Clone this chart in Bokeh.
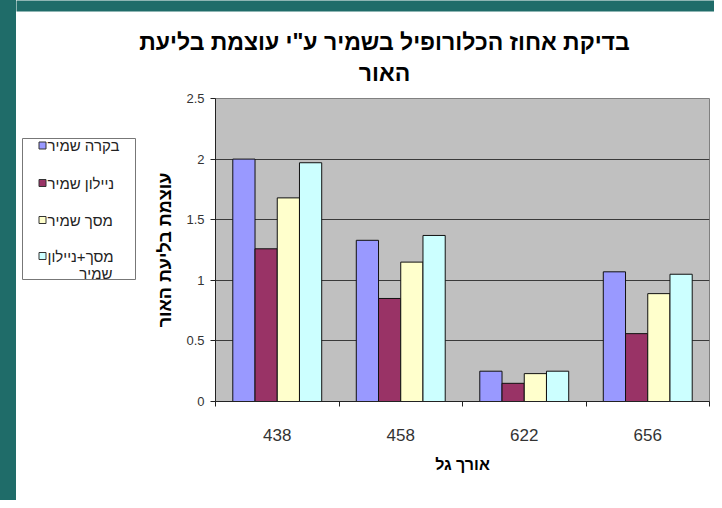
from bokeh.plotting import figure
from bokeh.layouts import column, row
from bokeh.models import (Range1d, FixedTicker, NumeralTickFormatter, ColumnDataSource, Spacer)
from bokeh.transform import dodge
from bokeh.core.properties import value
from bokeh.embed import file_html
from bokeh.resources import INLINE

# ---------------- data ----------------
categories = ["438", "458", "622", "656"]
series_names = ["בקרה שמיר", "ניילון שמיר", "מסך שמיר", "מסך+ניילון שמיר"]
control_shamir = [2.00, 1.33, 0.25, 1.07]
nylon_shamir = [1.26, 0.85, 0.15, 0.56]
screen_shamir = [1.68, 1.15, 0.23, 0.89]
screen_nylon_shamir = [1.97, 1.37, 0.25, 1.05]
y_ticks = [0, 0.5, 1, 1.5, 2, 2.5]
title_lines = ['בדיקת אחוז הכלורופיל בשמיר ע"י עוצמת בליעת', "האור"]
x_title = "אורך גל"
y_title = "עוצמת בליעת האור"

series_values = [control_shamir, nylon_shamir, screen_shamir, screen_nylon_shamir]
colors = ["#9999FF", "#993366", "#FFFFCC", "#CCFFFF"]
FONT = "Liberation Sans"
TEAL = "#1F6C69"

W, H = 714, 500
TOP_H = 88
TEAL_W = 16
LEFT_X1 = 145
ROW_H = H - TOP_H
MB_TOP, MB_BOTTOM = 10, 99


def blank(fig):
    fig.outline_line_color = None
    fig.grid.visible = False
    fig.background_fill_color = "white"
    fig.border_fill_color = "white"
    return fig


# ---------------- teal left strip (full height) ----------------
sf = Spacer(width=TEAL_W, height=H, styles={"background-color": TEAL})

# ---------------- title strip ----------------
tf = blank(figure(width=W - TEAL_W, height=TOP_H, x_range=Range1d(TEAL_W, W),
                  y_range=Range1d(TOP_H, 0),
                  output_backend="svg", toolbar_location=None, x_axis_type=None, y_axis_type=None,
                  min_border=0, min_border_left=0, min_border_right=0, min_border_top=0,
                  min_border_bottom=0))
tf.quad(left=[0], right=[W], top=[-2], bottom=[11], fill_color=TEAL, line_color=None)
tf.text(x=[384, 384], y=[41, 72], text=title_lines, text_align="center", text_baseline="middle",
        text_font=value(FONT), text_font_style="bold", text_font_size="23px", text_color="black")

# ---------------- legend strip ----------------
lf = blank(figure(width=LEFT_X1 - TEAL_W, height=ROW_H, x_range=Range1d(TEAL_W, LEFT_X1),
                  y_range=Range1d(TOP_H + ROW_H - MB_BOTTOM, TOP_H + MB_TOP),
                  output_backend="svg", toolbar_location=None, x_axis_type=None, y_axis_type=None,
                  min_border=0, min_border_left=0, min_border_right=0,
                  min_border_top=MB_TOP, min_border_bottom=MB_BOTTOM))
lf.quad(left=[22], right=[135], top=[138], bottom=[279], fill_color="white",
        line_color="#777777", line_width=1)
ys = [145, 182.5, 219.5, 255.5]
lf.rect(x=[42] * 4, y=ys, width=7, height=7, fill_color=colors, line_color="#333333", line_width=1)
first_lines = [series_names[0], series_names[1], series_names[2], "מסך+ניילון"]
lf.text(x=[47] * 4, y=ys, text=first_lines, text_align="left", text_baseline="middle",
        text_font=value(FONT), text_font_size="15px", text_color="#222222")
lf.text(x=[112], y=[273], text=["שמיר"], text_align="right", text_baseline="middle",
        text_font=value(FONT), text_font_size="15px", text_color="#222222")

# ---------------- main chart ----------------
p = figure(width=W - LEFT_X1, height=ROW_H, x_range=Range1d(0, len(categories)),
           y_range=Range1d(0, 2.5), output_backend="svg", toolbar_location=None,
           min_border_left=70, min_border_right=5, min_border_top=MB_TOP,
           min_border_bottom=MB_BOTTOM)
p.background_fill_color = "#C0C0C0"
p.border_fill_color = "white"
p.outline_line_color = "#808080"

centers = [i + 0.5 for i in range(len(categories))]
bar_w = 0.18
data = {"xc": centers}
for j, vals in enumerate(series_values):
    data["s%d" % j] = vals
src = ColumnDataSource(data)
for j in range(len(series_values)):
    p.vbar(x=dodge("xc", (j - 1.5) * bar_w, range=p.x_range), top="s%d" % j, width=bar_w,
           source=src, fill_color=colors[j], line_color="#111111", line_width=1)

p.xgrid.visible = False
p.ygrid.ticker = FixedTicker(ticks=y_ticks[1:])
p.ygrid.grid_line_color = "#3A3A3A"
p.ygrid.grid_line_width = 1

ya = p.yaxis[0]
ya.ticker = FixedTicker(ticks=y_ticks)
ya.formatter = NumeralTickFormatter(format="0.[0]")
ya.axis_line_color = "#222222"
ya.major_tick_line_color = "#222222"
ya.major_tick_out = 5
ya.major_tick_in = 0
ya.minor_tick_line_color = None
ya.major_label_standoff = 6
ya.major_label_text_font = FONT
ya.major_label_text_font_size = "13px"
ya.major_label_text_color = "#333333"
ya.axis_label = y_title
ya.axis_label_standoff = 8
ya.axis_label_text_font = FONT
ya.axis_label_text_font_style = "bold"
ya.axis_label_text_font_size = "18px"
ya.axis_label_text_color = "black"

xa = p.xaxis[0]
xa.ticker = FixedTicker(ticks=centers, minor_ticks=list(range(len(categories) + 1)))
xa.major_label_overrides = {c: lab for c, lab in zip(centers, categories)}
xa.axis_line_color = "#222222"
xa.major_tick_out = 0
xa.major_tick_in = 0
xa.minor_tick_line_color = "#222222"
xa.minor_tick_out = 5
xa.minor_tick_in = 0
xa.major_label_standoff = 22
xa.major_label_text_font = FONT
xa.major_label_text_font_size = "17px"
xa.major_label_text_color = "#333333"
xa.axis_label = x_title
xa.axis_label_standoff = 12
xa.axis_label_text_font = FONT
xa.axis_label_text_font_style = "bold"
xa.axis_label_text_font_size = "16px"
xa.axis_label_text_color = "black"

layout = row(sf, column(tf, row(lf, p, spacing=0), spacing=0), spacing=0)

open("out.html", "w").write(file_html(layout, INLINE))
